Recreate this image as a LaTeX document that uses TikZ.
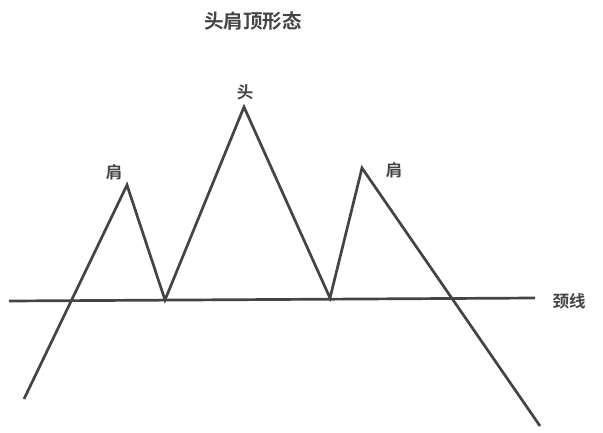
\documentclass[tikz,border=0pt]{standalone}
\usepackage{fontspec}
\newfontfamily\cjk{Noto Sans CJK SC}[UprightFont={* Bold}]
\definecolor{inkgray}{HTML}{444444}
\begin{document}
\begin{tikzpicture}[
x=1pt, y=-1pt,
every node/.style={text=inkgray, font=\cjk\fontsize{16.5pt}{18pt}\selectfont, inner sep=1pt},
titletext/.style={font=\cjk\fontsize{19.5pt}{21pt}\selectfont},
price/.style={draw=inkgray, line width=2.7pt, line join=miter},
neck/.style={draw=inkgray, line width=2.7pt}
]
\useasboundingbox (0,0) rectangle (603,432);

\node[titletext] (title) at (253,21) {头肩顶形态};

% turning points of the price line
\coordinate (start) at (24,399);
\coordinate (lshoulder) at (127,185);
\coordinate (ltrough) at (165,300);
\coordinate (head) at (244,107);
\coordinate (rtrough) at (330,298);
\coordinate (rshoulder) at (362,168);
\coordinate (finish) at (540,426);

% neckline ends
\coordinate (neckL) at (9,301);
\coordinate (neckR) at (535,298);

\draw[neck] (neckL) -- (neckR);
\draw[price] (start) -- (lshoulder) -- (ltrough) -- (head) -- (rtrough) -- (rshoulder) -- (finish);

\node (headlbl) at (245,92) {头};
\node (llbl) at (114,172) {肩};
\node (rlbl) at (394,170) {肩};
\node (necklbl) at (569,301) {颈线};

\end{tikzpicture}
\end{document}
